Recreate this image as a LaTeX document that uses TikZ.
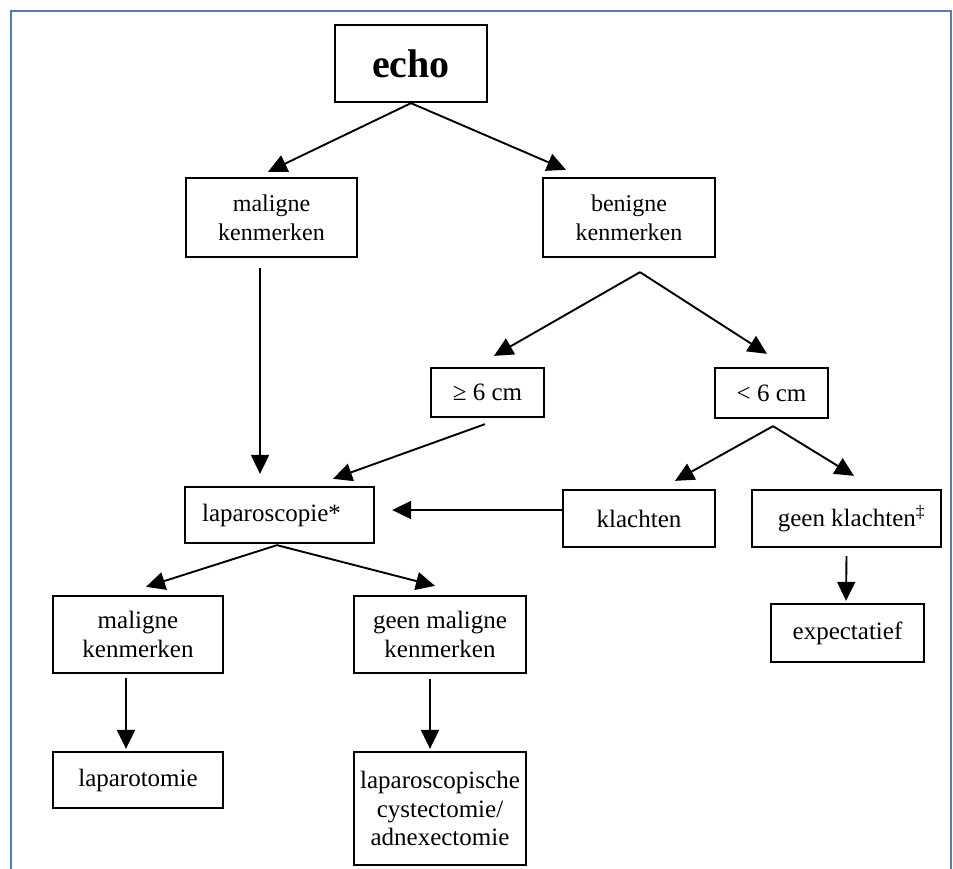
\documentclass[tikz,border=0pt]{standalone}
\usepackage{fontspec}
\setmainfont{Liberation Serif}
\usetikzlibrary{arrows.meta,calc}
\definecolor{framecol}{HTML}{4F7DBF}
\begin{document}
\begin{tikzpicture}[x=1pt,y=-1pt,
  box/.style={draw, line width=2.3pt, inner sep=0pt, align=center,
    font=\fontsize{25}{28.5}\selectfont},
  arr/.style={line width=1.9pt, -{Triangle[length=19pt,width=18pt]}},
  framebox/.style={draw=framecol, line width=1.5pt}]
\useasboundingbox (0,0) rectangle (953,868);
\clip (0,0) rectangle (953,868);
\fill[white] (0,0) rectangle (953,868);
\draw[framebox] (11,11) rectangle (951,890);

\node[box, minimum width=152pt, minimum height=77pt, font=\fontsize{40}{42}\selectfont\bfseries] (echo) at (411,63.5) {echo};
\node[box, minimum width=171pt, minimum height=79pt, font=\fontsize{24}{29}\selectfont] (mal1) at (271.5,217.5) {maligne\\kenmerken};
\node[box, minimum width=172pt, minimum height=79pt, font=\fontsize{24}{29}\selectfont] (ben) at (629,217.5) {benigne\\kenmerken};
\node[box, minimum width=113pt, minimum height=49pt] (ge6) at (487.5,392.5) {≥ 6 cm};
\node[box, minimum width=113pt, minimum height=50pt] (lt6) at (771.5,393) {< 6 cm};
\node[box, minimum width=189pt, minimum height=56pt] (lap) at (279.5,515) {laparoscopie*\hspace{16pt}};
\node[box, minimum width=152pt, minimum height=57pt] (kla) at (639,518.5) {\raisebox{-3pt}{klachten}};
\node[box, minimum width=189pt, minimum height=57pt] (gkl) at (846.5,518.5) {\hspace{10pt}geen klachten\textsuperscript{‡}};
\node[box, minimum width=170pt, minimum height=77pt] (mal2) at (138,634.5) {maligne\\kenmerken};
\node[box, minimum width=172pt, minimum height=77pt] (gmal) at (440,634.5) {geen maligne\\kenmerken};
\node[box, minimum width=153pt, minimum height=58pt] (exp) at (847.5,633) {expectatief};
\node[box, minimum width=170pt, minimum height=56pt] (lapt) at (138,780) {laparotomie};
\node[box, minimum width=172pt, minimum height=113pt] (lapc) at (440,808.5) {laparoscopische\\cystectomie/\\adnexectomie};

\draw[arr] (echo.south) -- ($(mal1.north)+(-3.5,-5)$);
\draw[arr] (echo.south) -- ($(ben.north)+(-63,-7)$);
\draw[arr] ($(mal1.south)+(-11.5,10)$) -- ($(lap.north)+(-19.5,-12)$);
\coordinate (benapex) at ($(ben.south)+(11,14)$);
\draw[arr] (benapex) -- ($(ge6.north)+(6.5,-11)$);
\draw[arr] (benapex) -- ($(lt6.north)+(-4.5,-13)$);
\draw[arr] ($(ge6.south)+(-2.5,6)$) -- ($(lap.north)+(53.5,-7)$);
\coordinate (ltapex) at ($(lt6.south)+(1.5,7)$);
\draw[arr] (ltapex) -- ($(kla.north)+(36,-8)$);
\draw[arr] (ltapex) -- ($(gkl.north)+(7.5,-13)$);
\draw[arr] ($(kla.west)+(0,-8.5)$) -- ($(lap.east)+(17,-5)$);
\coordinate (lapapex) at ($(lap.south)+(-2.5,1)$);
\draw[arr] (lapapex) -- ($(mal2.north)+(8,-8)$);
\draw[arr] (lapapex) -- ($(gmal.north)+(-5,-9)$);
\draw[arr] ($(gkl.south)+(0,8)$) -- ($(exp.north)+(-1.5,-2)$);
\draw[arr] ($(mal2.south)+(-12,4)$) -- ($(lapt.north)+(-12,-2)$);
\draw[arr] ($(gmal.south)+(-10,5)$) -- ($(lapc.north)+(-10,-2)$);
\end{tikzpicture}
\end{document}
